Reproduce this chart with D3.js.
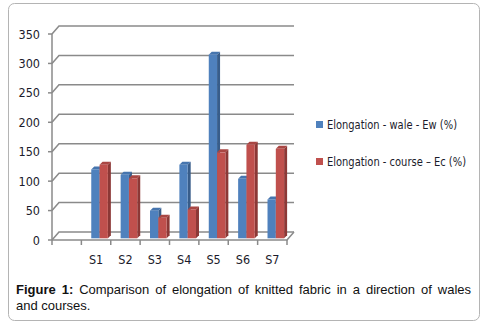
<!DOCTYPE html>
<html>
<head>
<meta charset="utf-8">
<script src="https://cdn.jsdelivr.net/npm/d3@7"></script>
<style>
  html, body { margin: 0; padding: 0; background: #fff; }
  svg { display: block; }
</style>
</head>
<body>
<svg id="chart" width="484" height="328"></svg>
<script>
// Elongation of knitted fabric, wale vs course direction (%)
const categories = ["", "S1", "S2", "S3", "S4", "S5", "S6", "S7"];
const waleValues = [null, 117, 108, 47, 125, 312, 101, 66];
const courseValues = [null, 125, 102, 35, 49, 146, 159, 152];
const yTicks = [0, 50, 100, 150, 200, 250, 300, 350];
const seriesNames = ["Elongation - wale - Ew (%)", "Elongation - course \u2013 Ec (%)"];
const captionBold = "Figure 1:";
const captionLine1 = " Comparison of elongation of knitted fabric in a direction of wales";
const captionLine2 = "and courses.";

const svg = d3.select("#chart");

// frame
svg.append("rect")
  .attr("x", 8.5).attr("y", 3.5).attr("width", 471).attr("height", 317)
  .attr("rx", 6).attr("ry", 6)
  .attr("fill", "#fff").attr("stroke", "#b4b4b4").attr("stroke-width", 1);

// 3D geometry: front plane and back wall offset
const wall = { dx: 7, dy: -8 };
const barShift = { dx: 1.5, dy: -1.7 };  // bars sit slightly behind the front edge
const barDepth = { dx: 3, dy: -3 };

const x = d3.scaleBand().domain(categories).range([52, 287]).padding(0);
const y = d3.scaleLinear().domain([0, 350]).range([240, 34]);
const series = d3.scaleBand().domain([0, 1]).range([-8.3, 8.3]).padding(0);

const gridColor = "#8a8a8a";
const grid = svg.append("g").attr("stroke", gridColor).attr("stroke-width", 1.5).attr("fill", "none");

// back-wall gridlines with the left-wall diagonal
yTicks.forEach(t => {
  const yf = y(t), yb = y(t) + wall.dy;
  grid.append("path")
    .attr("d", `M${52},${yf}L${52 + wall.dx},${yb}L${294},${yb}`);
});

// vertical axis line and ticks
grid.append("line").attr("x1", 52).attr("x2", 52).attr("y1", y(0)).attr("y2", y(350));
yTicks.forEach(t => {
  grid.append("line").attr("x1", 48).attr("x2", 52).attr("y1", y(t)).attr("y2", y(t));
});

// floor edges
grid.append("path")
  .attr("d", `M52,${y(0)}L287,${y(0)}L${287 + wall.dx},${y(0) + wall.dy}`);

// category ticks
const tickXs = categories.map(c => x(c)).concat([x.range()[1]]);
tickXs.forEach(tx => {
  grid.append("line").attr("x1", tx).attr("x2", tx).attr("y1", y(0)).attr("y2", y(0) + 5);
});

// y labels
svg.append("g")
  .selectAll("text").data(yTicks).join("text")
  .attr("x", 40).attr("y", d => y(d))
  .attr("dy", "0.36em")
  .attr("text-anchor", "end")
  .attr("font-family", "'Liberation Sans Narrow', 'DejaVu Sans Condensed', 'Open Sans', sans-serif")
  .attr("font-size", 12.5)
  .attr("fill", "#1b1b2b")
  .text(d => d);

// x labels
svg.append("g")
  .selectAll("text").data(categories.filter(c => c !== "")).join("text")
  .attr("x", d => x(d) + x.bandwidth() / 2)
  .attr("y", 264)
  .attr("text-anchor", "middle")
  .attr("font-family", "'Liberation Sans Narrow', 'DejaVu Sans Condensed', 'Open Sans', sans-serif")
  .attr("font-size", 12.5)
  .attr("fill", "#1b1b2b")
  .text(d => d);

// 3D columns
const palette = [
  { front: "#4F81BD", top: "#4675AE", side: "#385D8A" },
  { front: "#C0504D", top: "#A94643", side: "#8C3836" }
];
const barsG = svg.append("g");
const allSeries = [waleValues, courseValues];

categories.forEach((cat, i) => {
  allSeries.forEach((vals, s) => {
    const v = vals[i];
    if (v == null) return;
    const c = palette[s];
    const x0 = x(cat) + x.bandwidth() / 2 + 2 + series(s) + barShift.dx;
    const w = series.bandwidth();
    const base = y(0) + barShift.dy;
    const top = y(v) + barShift.dy;
    const dx = barDepth.dx, dy = barDepth.dy;
    // side
    barsG.append("path")
      .attr("d", `M${x0 + w},${top}L${x0 + w + dx},${top + dy}L${x0 + w + dx},${base + dy}L${x0 + w},${base}Z`)
      .attr("fill", c.side);
    // top
    barsG.append("path")
      .attr("d", `M${x0},${top}L${x0 + dx},${top + dy}L${x0 + w + dx},${top + dy}L${x0 + w},${top}Z`)
      .attr("fill", c.top);
    // front
    barsG.append("rect")
      .attr("x", x0).attr("y", top).attr("width", w).attr("height", base - top)
      .attr("fill", c.front);
  });
});

// legend
const legend = svg.append("g");
const legendY = [124.5, 161.5];
const legendW = [130, 139];
seriesNames.forEach((name, s) => {
  legend.append("rect")
    .attr("x", 316).attr("y", legendY[s] - 3.5).attr("width", 7).attr("height", 7)
    .attr("fill", palette[s].front);
  legend.append("text")
    .attr("x", 327).attr("y", legendY[s]).attr("dy", "0.36em")
    .attr("font-family", "'Liberation Sans Narrow', 'DejaVu Sans Condensed', 'Open Sans', sans-serif")
    .attr("font-size", 12.5)
    .attr("fill", "#1b1b2b")
    .attr("textLength", legendW[s])
    .attr("lengthAdjust", "spacingAndGlyphs")
    .text(name);
});

// caption (first line justified)
const cap = svg.append("g")
  .attr("font-family", "'Liberation Sans', Arial, sans-serif")
  .attr("font-size", 13)
  .attr("fill", "#111");
const line1 = cap.append("text").attr("x", 16).attr("y", 293.5);
line1.append("tspan").attr("font-weight", "bold").text(captionBold);
line1.append("tspan").text(captionLine1);
const natural = line1.node().getComputedTextLength();
const spaces = (captionBold + captionLine1).split(" ").length - 1;
const target = 471 - 16;
line1.style("word-spacing", ((target - natural) / spaces) + "px");
cap.append("text").attr("x", 16).attr("y", 309.5).text(captionLine2);
</script>
</body>
</html>
